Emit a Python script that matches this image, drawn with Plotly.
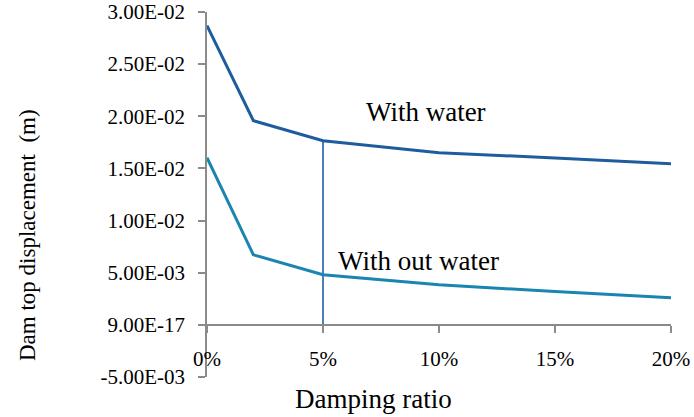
import plotly.graph_objects as go

damping = [0, 2, 5, 10, 15, 20]
with_water = [0.0287, 0.01958, 0.01766, 0.01651, 0.0160, 0.01545]
without_water = [0.01603, 0.00672, 0.0048, 0.00384, 0.0032, 0.00259]

y_ticks = [0.03, 0.025, 0.02, 0.015, 0.01, 0.005, 0.0, -0.005]
y_ticktext = ["3.00E-02", "2.50E-02", "2.00E-02", "1.50E-02", "1.00E-02",
              "5.00E-03", "9.00E-17", "-5.00E-03"]
x_ticks = [0, 5, 10, 15, 20]
x_ticktext = ["0%", "5%", "10%", "15%", "20%"]

marker_x = 5
marker_idx = damping.index(marker_x)

FONT = "Liberation Serif"
AXIS_GREY = "#8a8a8a"

W, H = 694, 417
L, R, T, B = 207, 671, 12, 377  # plot edges in window px

fig = go.Figure()
fig.add_trace(go.Scatter(x=[marker_x, marker_x], y=[0, with_water[marker_idx]],
                         mode="lines", line=dict(color="#4a7fb8", width=2),
                         showlegend=False, hoverinfo="skip"))
fig.add_trace(go.Scatter(x=damping, y=with_water, mode="lines",
                         line=dict(color="#1f5c9e", width=3), name="With water"))
fig.add_trace(go.Scatter(x=damping, y=without_water, mode="lines",
                         line=dict(color="#1a85b0", width=3), name="With out water"))

y_min, y_max = -0.005, 0.0300001
x_axis_pos = (0 - y_min) / (y_max - y_min)

fig.update_layout(
    width=W, height=H,
    margin=dict(l=L, r=W - R, t=T, b=H - B),
    paper_bgcolor="white", plot_bgcolor="white",
    showlegend=False,
    font=dict(family=FONT, color="black"),
    xaxis=dict(range=[0, 20.0001], tickvals=x_ticks, ticktext=x_ticktext,
               showgrid=False, zeroline=False, showline=True,
               linecolor=AXIS_GREY, linewidth=1.5,
               ticks="outside", ticklen=7, tickcolor=AXIS_GREY, tickwidth=1.5,
               tickfont=dict(family=FONT, size=21),
               anchor="free", position=x_axis_pos, ticklabelstandoff=8,
               automargin=False),
    yaxis=dict(range=[y_min, y_max], tickvals=y_ticks, ticktext=y_ticktext,
               showgrid=False, zeroline=False, showline=True,
               linecolor=AXIS_GREY, linewidth=1.5,
               ticks="outside", ticklen=7, tickcolor=AXIS_GREY, tickwidth=1.5,
               tickfont=dict(family=FONT, size=21),
               ticklabelstandoff=9, automargin=False),
)

fig.add_annotation(text="Damping ratio", xref="paper", yref="paper",
                   x=(373 - L) / (R - L), y=-(399 - B) / (B - T),
                   xanchor="center", yanchor="middle", showarrow=False,
                   font=dict(family=FONT, size=27))
fig.add_annotation(text="With water", x=9.45, y=0.0204, xref="x", yref="y",
                   showarrow=False, font=dict(family=FONT, size=27))
fig.add_annotation(text="With out water", x=9.1, y=0.0061, xref="x", yref="y",
                   showarrow=False, font=dict(family=FONT, size=27))
fig.add_annotation(text="Dam top displacement  (m)", textangle=-90,
                   x=-(L - 27) / (R - L), xref="paper",
                   y=(B - 235) / (B - T), yref="paper",
                   showarrow=False, font=dict(family=FONT, size=23),
                   xanchor="center", yanchor="middle")

fig.write_html("out.html",
               config={"displayModeBar": False},
               post_script="document.body.style.margin='0';document.body.style.overflow='hidden';")
